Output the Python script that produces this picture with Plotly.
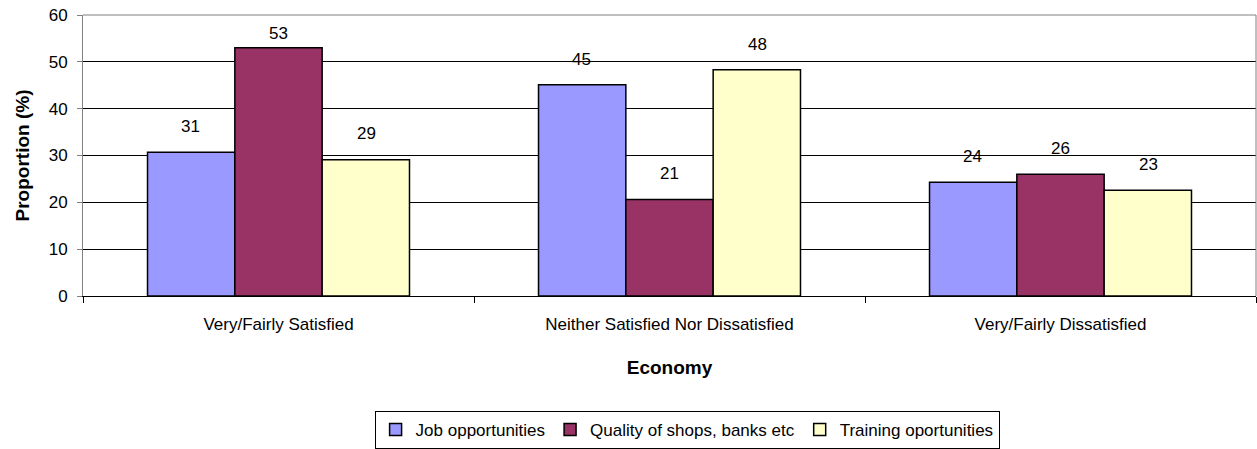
import plotly.graph_objects as go

categories = ["Very/Fairly Satisfied", "Neither Satisfied Nor Dissatisfied", "Very/Fairly Dissatisfied"]
series_names = ["Job opportunities", "Quality of shops, banks etc", "Training oportunities"]
job_opportunities = [30.7, 45.1, 24.3]
quality_of_shops = [53.0, 20.6, 26.0]
training_opportunities = [29.1, 48.3, 22.6]
series_values = [job_opportunities, quality_of_shops, training_opportunities]
series_colors = ["#9999FF", "#993366", "#FFFFCC"]
y_ticks = [0, 10, 20, 30, 40, 50, 60]

FONT = "Liberation Sans, Arial, sans-serif"
FS = 17
TITLE_FS = 19

fig = go.Figure()
for name, vals, col in zip(series_names, series_values, series_colors):
    fig.add_trace(go.Bar(
        name=name, x=categories, y=vals,
        marker=dict(color=col, line=dict(color="#000000", width=1.5)),
    ))

# value labels floating above each bar, kept inside the plot area near the top
offsets = [-1, 0, 1]
for k, vals in enumerate(series_values):
    for i, v in enumerate(vals):
        fig.add_annotation(
            x=i + offsets[k] * 0.224, y=min(v + 5.5, 56.0), xref="x", yref="y",
            text=f"{v:.0f}", showarrow=False, yanchor="middle",
            font=dict(family=FONT, size=FS, color="#000000"),
        )

fig.update_layout(
    width=1257, height=449,
    margin=dict(l=83, r=1, t=15, b=152),
    paper_bgcolor="#FFFFFF", plot_bgcolor="#FFFFFF",
    barmode="group", bargap=0.33, bargroupgap=0,
    font=dict(family=FONT, size=FS, color="#000000"),
    showlegend=True,
    legend=dict(
        orientation="h", x=0.515, xanchor="center", y=-0.408, yanchor="top",
        bordercolor="#000000", borderwidth=1, font=dict(size=FS),
        itemwidth=30, tracegroupgap=0,
    ),
    xaxis=dict(
        type="category", showline=True, linecolor="#000000", linewidth=1,
        ticks="outside", tickson="boundaries", ticklen=6, tickcolor="#000000",
        tickfont=dict(size=FS), ticklabelstandoff=13,
        title=dict(text="<b>Economy</b>", font=dict(size=TITLE_FS), standoff=27),
    ),
    yaxis=dict(
        range=[0, 60], tickvals=y_ticks, showgrid=True, gridcolor="#000000", gridwidth=1,
        showline=True, linecolor="#808080", linewidth=1,
        ticks="outside", ticklen=5, tickcolor="#808080", tickfont=dict(size=FS),
        ticklabelstandoff=6,
        title=dict(text="<b>Proportion (%)</b>", font=dict(size=TITLE_FS), standoff=14),
        zeroline=False,
    ),
)

# thin grey frame on the top and right edges of the plot area
fig.add_shape(type="line", xref="paper", yref="paper", x0=0, x1=1, y0=1, y1=1,
              line=dict(color="#808080", width=1))
fig.add_shape(type="line", xref="paper", yref="paper", x0=1, x1=1, y0=0, y1=1,
              line=dict(color="#808080", width=1))

fig.write_html("out.html")
